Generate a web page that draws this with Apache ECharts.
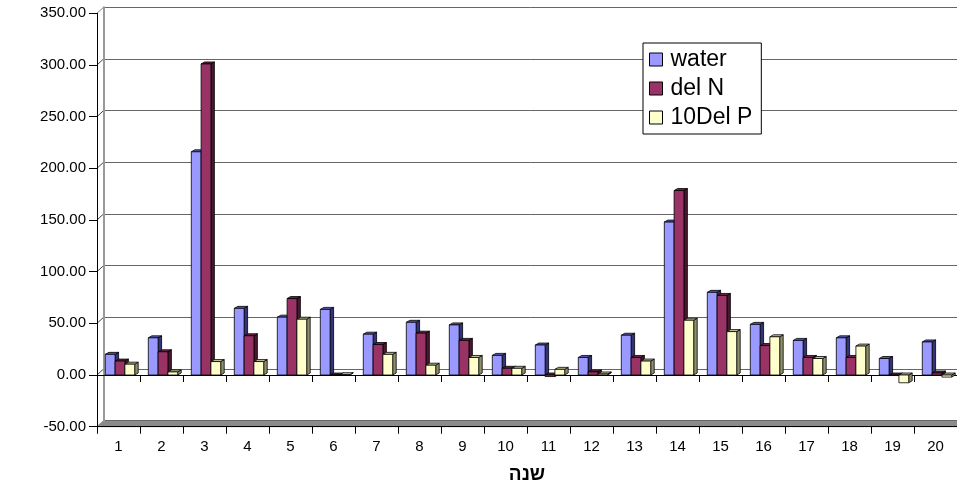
<!DOCTYPE html>
<html>
<head>
<meta charset="utf-8">
<style>
  html, body { margin: 0; padding: 0; background: #fff; }
  #chart { width: 957px; height: 484px; }
</style>
<script src="https://cdn.jsdelivr.net/npm/echarts@6/dist/echarts.min.js"></script>
</head>
<body>
<div id="chart"></div>
<script>
// Years (category axis) and the three measured series
const years = ['1','2','3','4','5','6','7','8','9','10','11','12','13','14','15','16','17','18','19','20'];
const water = [20, 36, 216, 64.5, 56, 63.5, 39.5, 51, 48.5, 19, 29, 17, 38.5, 148, 80, 49, 33.5, 36, 16, 32];
const delN  = [13.5, 22.5, 301, 38, 74, 0, 29.5, 40.5, 33.5, 6.5, -1.5, 3, 17, 178.5, 77, 28.5, 17, 17, -0.5, 2];
const delP10 = [10.5, 3, 13, 13, 54, 0.3, 20, 9.5, 17, 6.5, 5.5, 1, 13.5, 53, 42, 37, 16, 28, -7.5, -2];
const seriesNames = ['water', 'del N', '10Del P'];
const yTicks = [-50, 0, 50, 100, 150, 200, 250, 300, 350];

// face colours: front, side, top
const palette = [
  { front: '#9999FF', side: '#33337A', top: '#5C5CB8' },
  { front: '#993366', side: '#4A1830', top: '#6E2449' },
  { front: '#FFFFCC', side: '#8F8F6E', top: '#C8C89C' }
];

const FRONT_LEFT = 97, FRONT_TOP = 13.3, PLOT_H = 413.4;
const BACK_LEFT = 103.5, BACK_TOP = 7.3;
const BAR_W = 9.8, BAR_OFFSET = 8.3, DEPTH_X = 3.5, DEPTH_Y = -2;

function makeRenderer(idx) {
  const col = palette[idx];
  return function (params, api) {
    const cat = api.value(0), v = api.value(1);
    const pv = api.coord([cat, v]);
    const p0 = api.coord([cat, 0]);
    const band = api.size([1, 0])[0];
    const x0 = pv[0] - band / 2 + BAR_OFFSET + idx * BAR_W;
    const x1 = x0 + BAR_W;
    const yTop = Math.min(pv[1], p0[1]);
    const yBot = Math.max(pv[1], p0[1]);
    const stroke = { stroke: '#000', lineWidth: 0.8 };
    return {
      type: 'group',
      children: [
        { type: 'polygon',
          shape: { points: [[x1, yTop], [x1 + DEPTH_X, yTop + DEPTH_Y], [x1 + DEPTH_X, yBot + DEPTH_Y], [x1, yBot]] },
          style: Object.assign({ fill: col.side }, stroke) },
        { type: 'polygon',
          shape: { points: [[x0, yTop], [x0 + DEPTH_X, yTop + DEPTH_Y], [x1 + DEPTH_X, yTop + DEPTH_Y], [x1, yTop]] },
          style: Object.assign({ fill: col.top }, stroke) },
        { type: 'rect',
          shape: { x: x0, y: yTop, width: BAR_W, height: Math.max(yBot - yTop, 0.01) },
          style: Object.assign({ fill: col.front }, stroke) }
      ]
    };
  };
}

const seriesData = [water, delN, delP10];
const font = 'Liberation Sans, Arial, sans-serif';

const chart = echarts.init(document.getElementById('chart'), null, { renderer: 'canvas' });

const option = {
  animation: false,
  backgroundColor: '#fff',
  textStyle: { fontFamily: font },
  grid: [
    { left: FRONT_LEFT, top: FRONT_TOP, right: 0, height: PLOT_H, containLabel: false, outerBoundsMode: 'none' },
    { left: BACK_LEFT, top: BACK_TOP, right: -8, height: PLOT_H, containLabel: false, outerBoundsMode: 'none' }
  ],
  legend: {
    orient: 'vertical',
    left: 643,
    top: 43,
    padding: [5, 9, 5, 6],
    itemGap: 6,
    itemWidth: 13,
    itemHeight: 13,
    borderColor: '#000',
    borderWidth: 1,
    backgroundColor: '#fff',
    textStyle: { fontFamily: font, fontSize: 23, color: '#000', padding: [0, 0, 0, 3] },
    data: seriesNames.map((n, i) => ({
      name: n, icon: 'rect',
      itemStyle: { color: palette[i].front, borderColor: '#000', borderWidth: 1 }
    }))
  },
  xAxis: [
    {
      type: 'category', gridIndex: 0, data: years, position: 'bottom',
      axisLine: { onZero: false, lineStyle: { color: '#000', width: 1 } },
      axisTick: { show: true, length: 7, lineStyle: { color: '#000' } },
      axisLabel: { color: '#000', fontSize: 15, fontFamily: font, margin: 13 },
      name: 'שנה', nameLocation: 'middle', nameGap: 39,
      nameTextStyle: { fontSize: 19, fontWeight: 'bold', color: '#000', fontFamily: font }
    },
    {
      type: 'category', gridIndex: 0, data: years, position: 'bottom',
      axisLine: { onZero: true, lineStyle: { color: '#000', width: 1 } },
      axisTick: { show: true, length: 7, lineStyle: { color: '#000' } },
      axisLabel: { show: false }
    },
    {
      type: 'category', gridIndex: 1, data: years, show: false
    }
  ],
  yAxis: [
    {
      type: 'value', gridIndex: 0, min: -50, max: 350, interval: 50,
      axisLine: { show: true, lineStyle: { color: '#000', width: 1 } },
      axisTick: { show: true, length: 8, lineStyle: { color: '#000' } },
      splitLine: { show: false },
      axisLabel: { color: '#000', fontSize: 15, fontFamily: font, margin: 11,
                   formatter: v => v.toFixed(2) }
    },
    {
      type: 'value', gridIndex: 1, min: -50, max: 350, interval: 50,
      axisLine: { show: true, lineStyle: { color: '#999', width: 2 } },
      axisTick: { show: false },
      axisLabel: { show: false },
      splitLine: { show: true, lineStyle: { color: '#666', width: 1 } }
    }
  ],
  series: seriesData.map((arr, i) => ({
    type: 'custom',
    name: seriesNames[i],
    xAxisIndex: 0, yAxisIndex: 0,
    renderItem: makeRenderer(i),
    encode: { x: 0, y: 1 },
    data: arr.map((v, k) => [k, v]),
    z: 3
  }))
};

chart.setOption(option);

// side wall connectors and the floor slab, placed from the axis scales
const graphics = [];
yTicks.forEach(v => {
  const yf = chart.convertToPixel({ yAxisIndex: 0 }, v);
  const yb = chart.convertToPixel({ yAxisIndex: 1 }, v);
  graphics.push({
    type: 'line', z: -1,
    shape: { x1: FRONT_LEFT, y1: yf, x2: BACK_LEFT, y2: yb },
    style: { stroke: v === 350 ? '#888' : '#444', lineWidth: 1 }
  });
});
const yfMin = chart.convertToPixel({ yAxisIndex: 0 }, -50);
const ybMin = chart.convertToPixel({ yAxisIndex: 1 }, -50);
graphics.push({
  type: 'polygon', z: -1,
  shape: { points: [[FRONT_LEFT, yfMin], [BACK_LEFT, ybMin], [970, ybMin], [970, yfMin]] },
  style: { fill: '#8a8a8a', stroke: '#9a9a9a', lineWidth: 1 }
});
chart.setOption({ graphic: graphics });
</script>
</body>
</html>
